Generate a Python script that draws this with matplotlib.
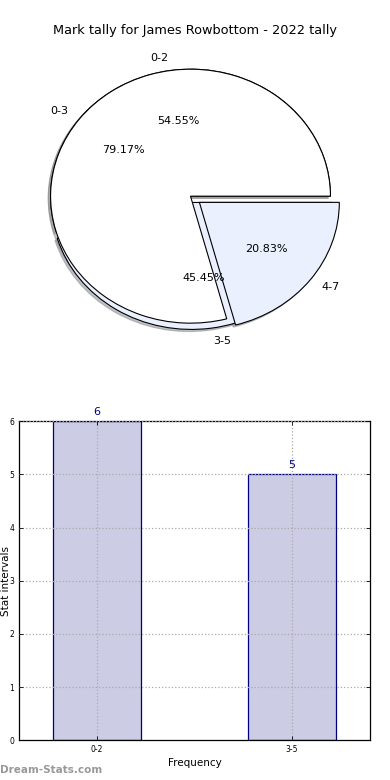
import matplotlib
matplotlib.use("Agg")
import matplotlib.pyplot as plt

title = "Mark tally for James Rowbottom - 2022 tally"

# inner pie (bar categories)
pie1_labels = ["0-2", "3-5"]
pie1_values = [6, 5]

# outer pie
pie2_labels = ["0-3", "4-7"]
pie2_values = [19, 5]

bar_labels = ["0-2", "3-5"]
bar_values = [6, 5]

pie_colors = ["#ffffff", "#eaf0fd"]


def main():
    fig = plt.figure(figsize=(3.9, 7.8), dpi=100)

    shadow = {"ox": -0.012, "oy": -0.012, "shade": 0.45}
    ax1 = fig.add_axes([0.040, 0.545, 0.897, 0.407])
    ax1.pie(pie1_values, labels=pie1_labels, colors=pie_colors,
            explode=[0, 0.05], autopct="%1.2f%%", shadow=shadow,
            wedgeprops={"linewidth": 0.8, "edgecolor": "black"},
            textprops={"fontsize": 8})
    ax1.pie(pie2_values, labels=pie2_labels, colors=pie_colors,
            explode=[0, 0.08], autopct="%1.2f%%", shadow=shadow,
            wedgeprops={"linewidth": 0.8, "edgecolor": "black"},
            textprops={"fontsize": 8})
    ax1.set_aspect("auto")
    ax1.set_xlim(-1.25, 1.25)
    ax1.set_ylim(-1.25, 1.25)
    fig.text(0.5, 0.961, title, ha="center", va="center", fontsize=9.3)

    ax2 = fig.add_axes([0.049, 0.051, 0.900, 0.409])
    x = range(len(bar_values))
    bars = ax2.bar(x, bar_values, width=0.45, color="#ccccE5",
                   edgecolor="#000080", linewidth=0.9, zorder=2)
    for b, v in zip(bars, bar_values):
        ax2.text(b.get_x() + b.get_width() / 2, v + 0.08, str(v),
                 ha="center", va="bottom", color="#000080", fontsize=8)
    ax2.set_xlim(-0.4, 1.4)
    ax2.set_ylim(0, 6)
    ax2.set_xticks(list(x))
    ax2.set_xticklabels(bar_labels)
    ax2.tick_params(labelsize=5.5, direction="in", top=True, right=True,
                    length=3, width=0.6)
    ax2.grid(True, linestyle=":", color="#aaaaaa", linewidth=0.9, zorder=3)
    ax2.set_axisbelow(False)
    ax2.set_xlabel("Frequency", fontsize=7.5, labelpad=3)
    ax2.set_ylabel("Stat intervals", fontsize=7.5)
    ax2.yaxis.set_label_coords(-0.024, 0.5)
    for s in ax2.spines.values():
        s.set_linewidth(0.9)

    fig.text(0.0, 0.013, "Dream-Stats.com", color="#999999", fontsize=7.5,
             fontweight="bold", ha="left", va="center")

    fig.savefig("out.png", dpi=100)


if __name__ == "__main__":
    main()
